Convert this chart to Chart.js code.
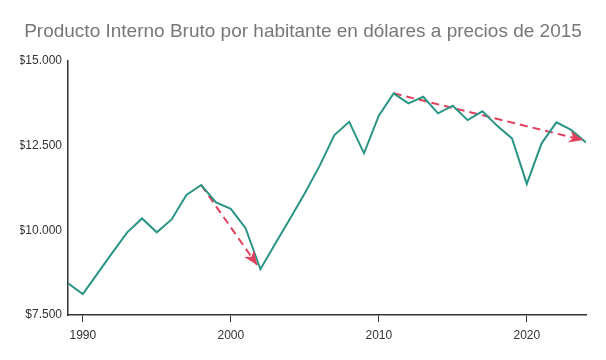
<!DOCTYPE html>
<html>
<head>
<meta charset="utf-8">
<script src="https://cdn.jsdelivr.net/npm/chart.js@4"></script>
<style>
  html, body { margin: 0; padding: 0; background: #fff; }
  #wrap { width: 606px; height: 360px; }
</style>
</head>
<body>
<div id="wrap"><canvas id="myChart"></canvas></div>
<script>
var years = [1989,1990,1991,1992,1993,1994,1995,1996,1997,1998,1999,2000,2001,2002,2003,2004,2005,2006,
             2007,2008,2009,2010,2011,2012,2013,2014,2015,2016,2017,2018,2019,2020,2021,2022,2023,2024];
var gdp = [8435,8120,8730,9340,9940,10350,9940,10320,11040,11335,10825,10630,10060,8850,9600,10340,11090,11900,
           12810,13200,12270,13380,14040,13745,13940,13450,13675,13250,13510,13080,12710,11370,12565,13185,12960,12590];
var xTicks = [1990, 2000, 2010, 2020];
var yTicks = [7500, 10000, 12500, 15000];

// trend arrows (start, end)
var arrow1X = [1998, 2001.78];
var arrow1Y = [11335, 8975];
var arrow2X = [2011, 2023.8];
var arrow2Y = [14040, 12660];

function pts(xs, ys) {
    return xs.map(function (x, i) { return {x: x, y: ys[i]}; });
}

function money(v) {
    return '$' + String(v).replace(/\B(?=(\d{3})+(?!\d))/g, '.');
}

var arrowHeads = {
    id: 'arrowHeads',
    afterDatasetsDraw: function (chart) {
        var ctx = chart.ctx;
        chart.data.datasets.forEach(function (ds, i) {
            if (!ds.arrow) return;
            var el = chart.getDatasetMeta(i).data;
            var a = el[el.length - 2], b = el[el.length - 1];
            var ang = Math.atan2(b.y - a.y, b.x - a.x);
            ctx.save();
            ctx.translate(b.x, b.y);
            ctx.rotate(ang);
            ctx.fillStyle = ds.borderColor;
            ctx.beginPath();
            ctx.moveTo(0, 0);
            ctx.lineTo(-14, -6);
            ctx.lineTo(-10, 0);
            ctx.lineTo(-14, 6);
            ctx.closePath();
            ctx.fill();
            ctx.restore();
        });
    }
};

var ctx = document.getElementById('myChart').getContext('2d');
var myChart = new Chart(ctx, {
    type: 'line',
    data: {
        datasets: [{
            label: 'PIB per cápita',
            data: pts(years, gdp),
            borderColor: '#2a9585',
            borderWidth: 2,
            pointRadius: 0,
            tension: 0
        },
        {
            label: 'tendencia 1',
            data: pts(arrow1X, arrow1Y),
            borderColor: '#e0405c',
            borderWidth: 2,
            borderDash: [8, 5],
            pointRadius: 0,
            arrow: true
        },
        {
            label: 'tendencia 2',
            data: pts(arrow2X, arrow2Y),
            borderColor: '#e0405c',
            borderWidth: 2,
            borderDash: [8, 5],
            pointRadius: 0,
            arrow: true
        }]
    },
    options: {
        responsive: true,
        maintainAspectRatio: false,
        animation: false,
        layout: { padding: { left: 20, right: 20, top: 0, bottom: 0 } },
        plugins: {
            legend: { display: false },
            tooltip: { enabled: false },
            title: {
                display: true,
                text: 'Producto Interno Bruto por habitante en dólares a precios de 2015',
                color: '#777777',
                font: { family: 'Liberation Sans, Arial, sans-serif', size: 19, weight: 'normal' },
                padding: { top: 20, bottom: 18 }
            }
        },
        scales: {
            x: {
                type: 'linear',
                min: 1989,
                max: 2024,
                afterBuildTicks: function (s) { s.ticks = xTicks.map(function (v) { return {value: v}; }); },
                afterFit: function (s) { s.height = 45; },
                grid: { drawOnChartArea: false, tickLength: 7, color: '#333', tickWidth: 1 },
                border: { color: '#333', width: 1.5 },
                ticks: {
                    color: '#333',
                    padding: 6,
                    font: { family: 'Liberation Sans, Arial, sans-serif', size: 12 },
                    callback: function (v) { return String(v); }
                }
            },
            y: {
                min: 7500,
                max: 15000,
                afterBuildTicks: function (s) { s.ticks = yTicks.map(function (v) { return {value: v}; }); },
                afterFit: function (s) { s.width = 48; },
                grid: { display: false, drawTicks: false },
                border: { color: '#333', width: 1.5 },
                ticks: {
                    color: '#333',
                    padding: 6,
                    font: { family: 'Liberation Sans, Arial, sans-serif', size: 12 },
                    callback: function (v) { return money(v); }
                }
            }
        }
    },
    plugins: [arrowHeads]
});
</script>
</body>
</html>
